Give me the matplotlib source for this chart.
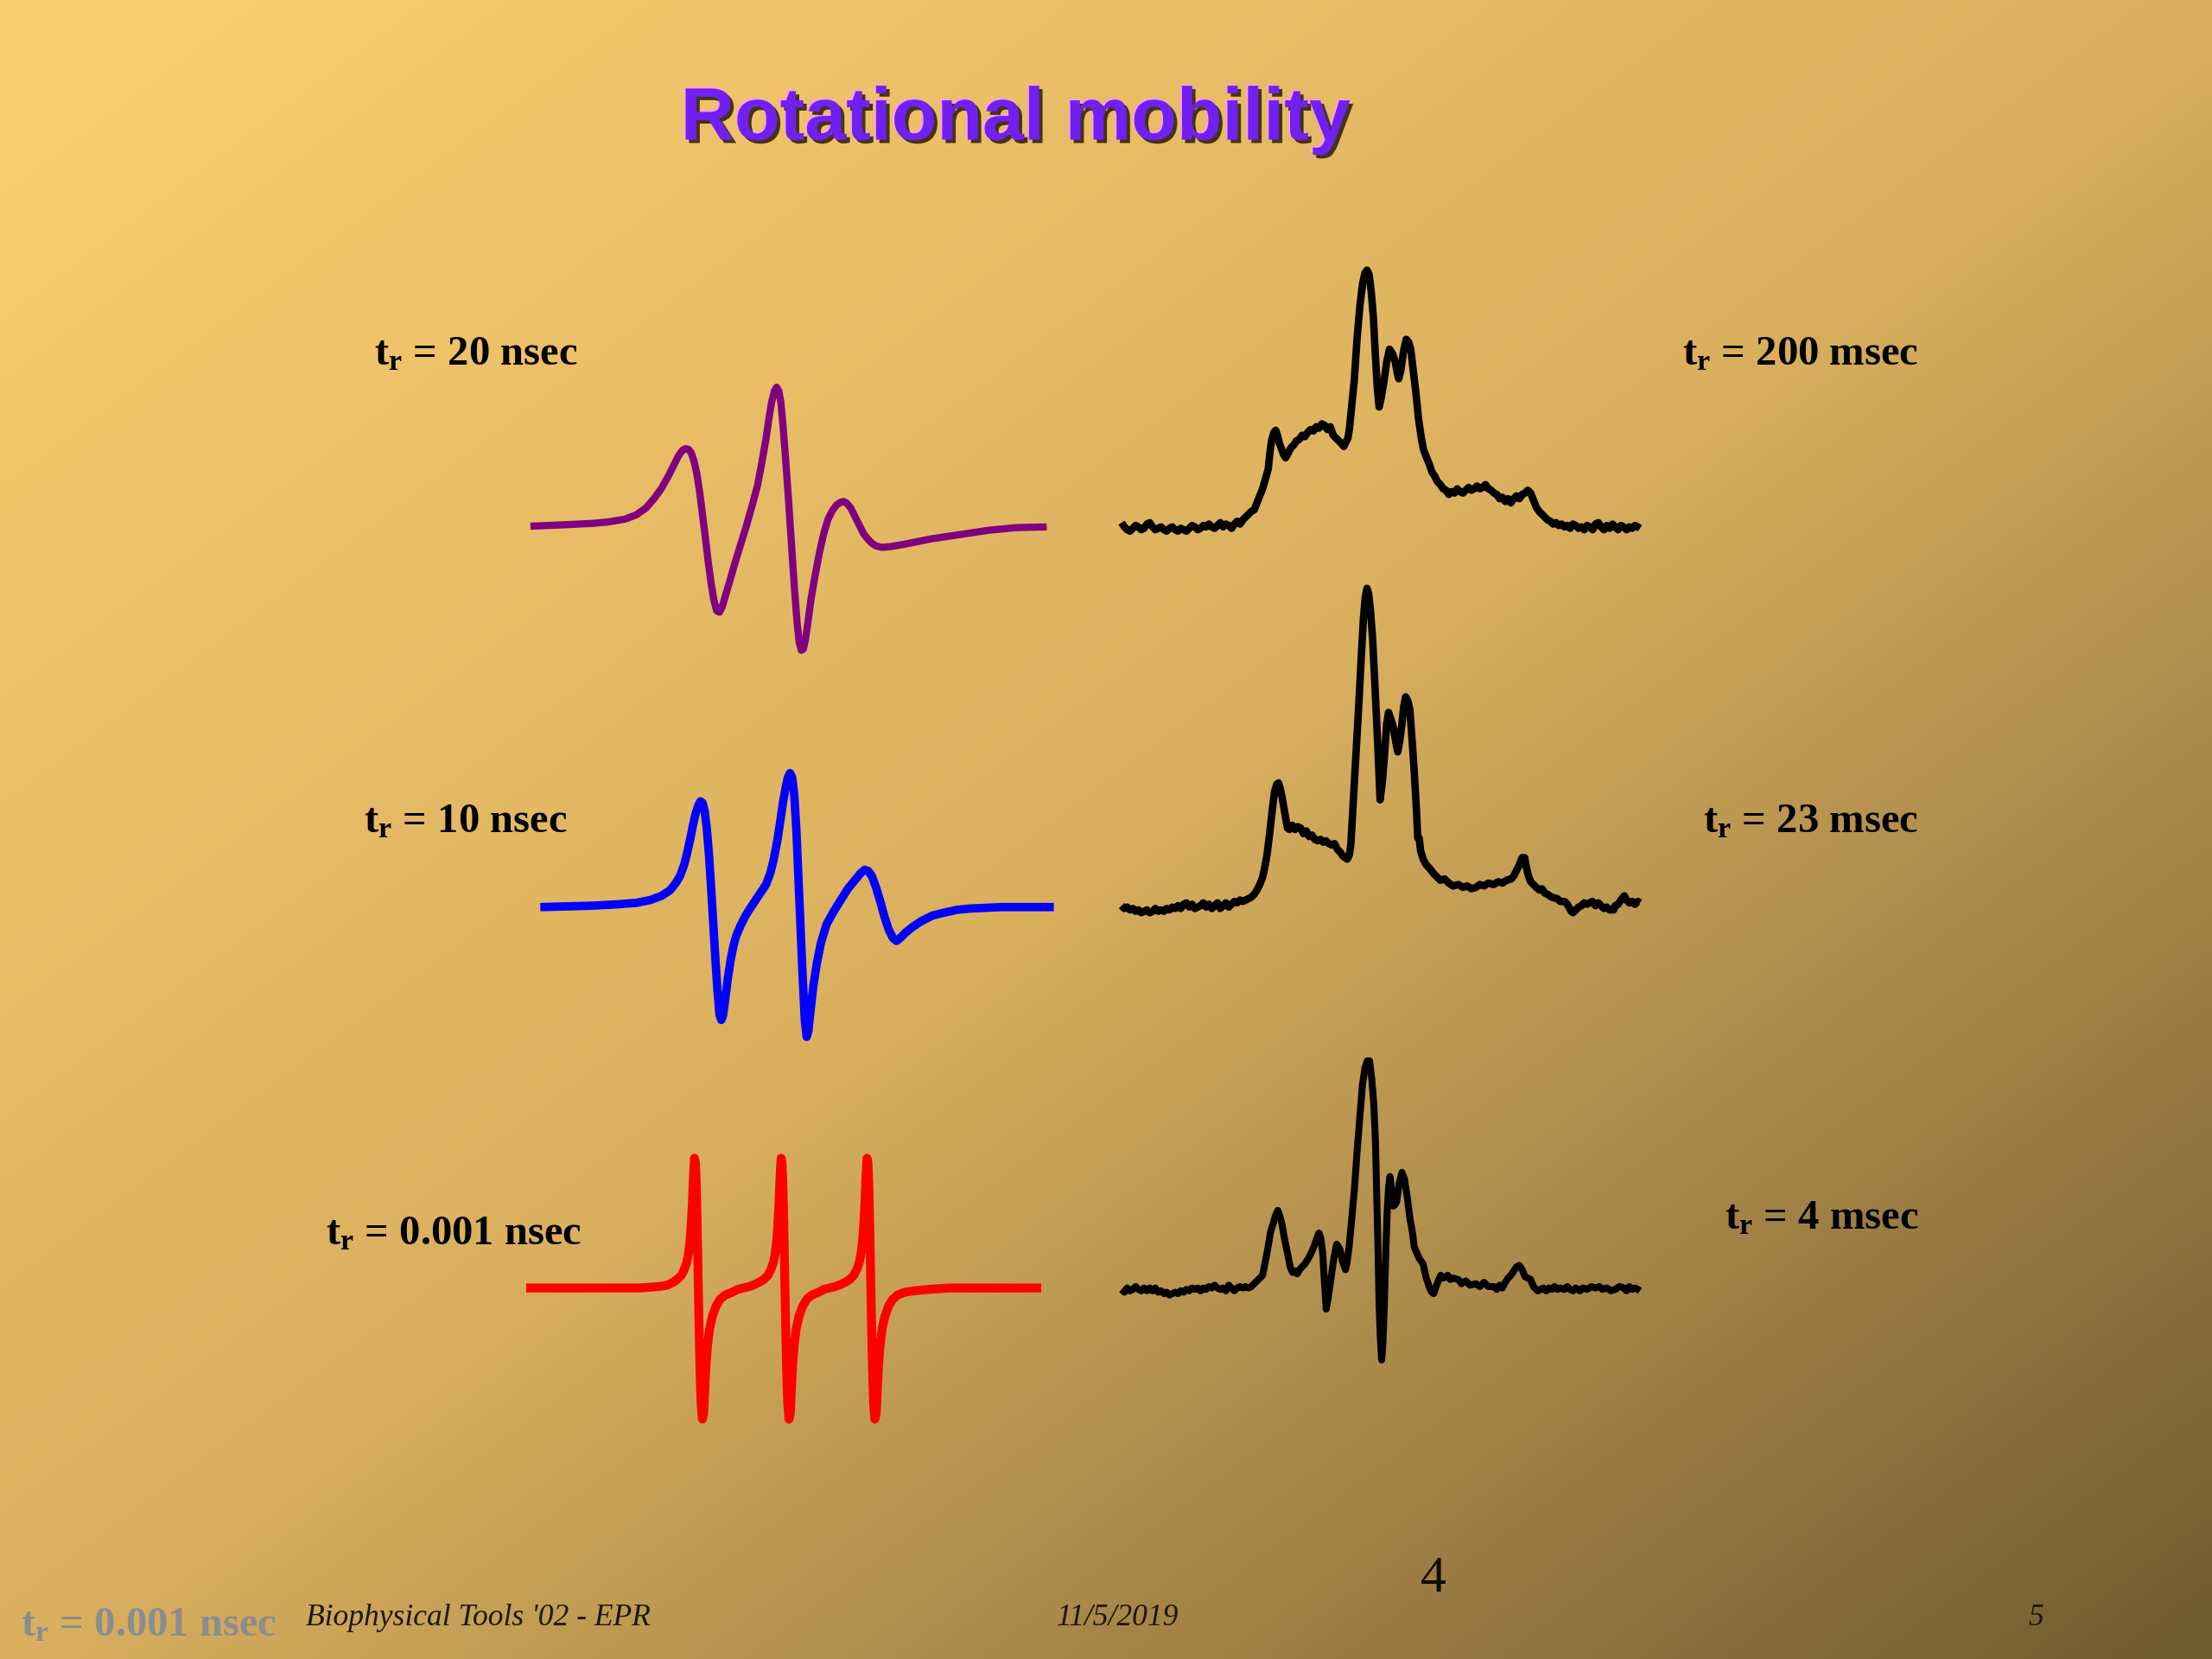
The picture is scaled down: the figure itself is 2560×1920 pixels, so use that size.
import numpy as np
import matplotlib.pyplot as plt
import matplotlib.patheffects as pe

plt.rcParams['mathtext.fontset'] = 'custom'
plt.rcParams['mathtext.rm'] = 'Liberation Serif'
plt.rcParams['mathtext.bf'] = 'Liberation Serif:bold'
plt.rcParams['mathtext.it'] = 'Liberation Serif:italic'

# slide layout grid (the slide is drawn on a 1568 x 1176 grid)
W, H = 1568, 1176

# simulated spectra, left column: (field, signal)
sim_20ns = np.array([
    (0, 0), (24, 1), (44, 2), (55, 3), (67, 5), (75, 8), (82, 13), (88, 20), (93, 27),
    (98, 36), (102, 44), (105, 50), (108, 54), (110, 55), (112, 54.5), (114, 52),
    (116, 46), (118, 37), (120, 24), (122, 8), (124, -8), (126, -25), (128, -40),
    (130, -52), (132, -60), (134, -61), (136, -57), (138, -50), (141, -40), (145, -26),
    (149, -13), (153, 0), (157, 14), (161, 29), (164, 45), (167, 62), (169, 76),
    (171, 88), (173, 96), (174.5, 98.5), (176, 96), (177.5, 88), (179, 72), (181, 46),
    (183, 18), (185, -12), (187, -42), (189, -68), (190.5, -82), (192, -88),
    (193.5, -87), (195, -80), (197, -66), (199, -51), (202, -34), (205, -18), (208, -5),
    (211, 5), (214, 11), (217, 15), (220, 17), (222, 17.5), (224, 16.5), (227, 13),
    (230, 7), (233, 1), (236, -5), (239, -9), (242, -12), (245, -14), (249, -15),
    (255, -14.5), (264, -13), (284, -9), (304, -6), (324, -3), (344, -1), (366, -0.5)])

sim_10ns = np.array([
    (0, 0), (37, 1), (55, 2), (68, 3), (78, 5), (86, 8), (92, 12), (96, 17), (99, 22),
    (102, 30), (104, 38), (106, 47), (108, 57), (110, 66), (112, 72), (113.5, 75),
    (115, 74), (116.5, 68), (118, 56), (119.5, 38), (121, 15), (122.5, -10), (124, -35),
    (125.5, -58), (127, -76), (128.3, -80), (129.5, -77), (131, -66), (133, -50),
    (135, -37), (137, -27), (139, -20), (142, -13), (145, -7), (148, -2), (152, 4),
    (156, 10), (160, 16), (163, 24), (165.5, 34), (168, 47), (170, 60), (172, 74),
    (174, 85), (175.5, 92), (177, 95), (178.5, 92), (180, 80), (181.5, 55), (183, 20),
    (184.5, -15), (186, -50), (187.5, -80), (188.8, -92), (190, -88), (191.5, -74),
    (193.5, -56), (196, -40), (199, -25), (203, -12), (208, -3), (213, 5), (218, 13),
    (223, 19), (227, 24), (230, 26.5), (232.5, 25.5), (235, 22), (238, 14), (241, 4),
    (244, -7), (247, -16), (250, -22), (252.5, -24), (255, -22), (259, -18), (264, -14),
    (270, -10), (278, -6), (286, -4), (295, -2), (305, -1), (327, 0), (364, 0)])

sim_0001ns = np.array([
    (0, 0), (47, 0), (80, 0), (94, 1), (100, 2), (104, 4), (107, 6), (110, 9), (112, 13),
    (113.8, 18), (115, 24), (116.1, 33), (117, 45), (117.8, 60), (118.5, 78), (119.3, 92),
    (120, 88), (120.6, 72), (121.2, 45), (121.8, 12), (122.5, -25), (123.2, -58),
    (124, -82), (124.9, -93), (125.8, -89), (126.6, -72), (127.5, -54), (128.6, -40),
    (130, -29), (132, -20), (134.5, -13), (137.5, -8), (141, -5), (146, -3), (150, -1),
    (154, 0), (158, 1), (162, 2.5), (165, 4), (168.4, 6), (171.4, 9), (173.4, 13),
    (175.2, 18), (176.4, 24), (177.5, 33), (178.4, 45), (179.2, 60), (179.9, 78),
    (180.7, 92), (181.4, 88), (182, 72), (182.6, 45), (183.2, 12), (183.9, -25),
    (184.6, -58), (185.4, -82), (186.3, -93), (187.2, -89), (188, -72), (188.9, -54),
    (190, -40), (191.4, -29), (193.4, -20), (195.9, -13), (198.9, -8), (202.4, -5),
    (207.4, -3), (211, -1), (215, 0), (219, 1), (223, 2.5), (226, 4), (229.3, 6),
    (232.3, 9), (234.3, 13), (236.1, 18), (237.3, 24), (238.4, 33), (239.3, 45),
    (240.1, 60), (240.8, 78), (241.6, 92), (242.3, 88), (242.9, 72), (243.5, 45),
    (244.1, 12), (244.8, -25), (245.5, -58), (246.3, -82), (247.2, -93), (248.1, -89),
    (248.9, -72), (249.8, -54), (250.9, -40), (252.3, -29), (254.3, -20), (256.8, -13),
    (259.8, -8), (263.3, -5), (268.3, -3), (275, -2), (285, -1), (300, 0), (330, 0),
    (365, 0)])

# measured spectra, right column
exp_200ms = np.array([
    (0, 4), (2, 1), (4, -1), (6, -2), (8, 0), (10, 2), (12, 1), (14, -1), (16, 0), (18, 3),
    (20, 4), (22, 1), (24, -1), (26, 0), (28, 1), (30, -1), (32, -2), (34, 0), (36, 1),
    (38, -1), (40, -2), (42, 0), (44, -1), (46, -2), (48, 0), (50, 2), (52, 1), (54, -1),
    (56, 0), (58, 2), (60, 1), (62, 3), (64, 1), (66, 0), (68, 2), (70, 4), (72, 1),
    (74, 3), (76, 2), (78, 0), (80, 3), (82, 5), (84, 3), (86, 6), (88, 8), (90, 10),
    (92, 12), (94, 13), (96, 18), (98, 23), (100, 28), (102, 35), (104, 42), (105, 52),
    (106.3, 62), (108, 68), (109.3, 69.5), (110.5, 66), (112, 60), (113.5, 56), (115, 52),
    (116.3, 50), (118, 53), (120, 57), (122, 59), (124, 62), (126, 63), (128, 66),
    (130, 65), (132, 68), (134, 70), (136, 69), (138, 72), (140, 71), (142, 74), (144, 73),
    (146, 70), (148, 72), (150, 66), (152, 64), (154, 62), (156, 60), (157.6, 58),
    (159, 61), (160.5, 64), (161.5, 70), (163, 85), (165, 105), (167, 135), (169, 158),
    (171, 174), (172.6, 181), (174, 183), (175.5, 180), (177, 168), (178.5, 150),
    (180, 122), (181.3, 100), (182.6, 86), (184, 92), (186, 104), (188, 118),
    (190, 127), (192, 124), (193.8, 119), (195.5, 110), (196.5, 106), (198, 112),
    (200, 126), (201.8, 134), (203.5, 132), (205, 127), (207, 110), (208.8, 95),
    (210.5, 78), (212.5, 64), (214, 56), (216.3, 50), (218, 46), (220, 40), (222, 37),
    (224, 33), (226, 31), (228, 28), (230, 27), (232, 24), (234, 26), (236, 25), (238, 28),
    (240, 26), (242, 25), (244, 27), (246, 29), (248, 27), (250, 28), (252, 30), (254, 28),
    (256, 29), (258, 31), (260, 28), (262, 27), (264, 25), (266, 24), (268, 21), (270, 22),
    (272, 19), (274, 21), (276, 18), (278, 21), (280, 23), (282, 21), (284, 24), (286, 25),
    (288, 27), (290, 25), (292, 20), (294, 15), (296, 12), (298, 10), (300, 8), (302, 6),
    (304, 5), (306, 3), (308, 4), (310, 2), (312, 3), (314, 1), (316, 2), (318, 0),
    (320, 3), (322, 2), (324, 0), (326, 1), (328, -1), (330, 2), (332, 1), (334, -1),
    (336, 3), (338, 4), (340, 1), (342, -1), (344, 2), (346, 0), (348, 3), (350, 1),
    (352, -1), (354, 2), (356, 1), (358, -1), (360, 1), (362, 0), (364, 2), (366, 1),
    (367.5, 0)])

exp_23ms = np.array([
    (0, 1), (2, -1), (4, 0), (6, -2), (8, -1), (10, -3), (12, -2), (14, -4), (16, -3),
    (18, -2), (20, -4), (22, -3), (24, -1), (26, -3), (28, -2), (30, -3), (32, -1),
    (34, -2), (36, 0), (38, -1), (40, 1), (42, -1), (44, 2), (46, 3), (48, 0), (50, 2),
    (52, -1), (54, 0), (56, 1), (58, 3), (60, 0), (62, 2), (64, -1), (66, 1), (68, 3),
    (70, -1), (72, 1), (74, 3), (76, 0), (78, 2), (80, 4), (82, 3), (84, 5), (86, 4),
    (88, 5), (90, 6), (92, 7), (94, 9), (96, 12), (98, 16), (100, 21), (101.5, 28),
    (103, 36), (105, 52), (107, 70), (108.5, 82), (110, 87), (111.3, 88), (112.5, 84),
    (113.8, 78), (115.5, 68), (117.6, 56), (119, 55), (121, 58), (123, 55), (125, 57),
    (127, 56), (129, 52), (131, 54), (133, 50), (135, 51), (137, 48), (139, 47), (141, 48),
    (143, 46), (145, 47), (147, 45), (149, 44), (151, 45), (153, 41), (155, 39), (157, 36),
    (158.5, 35), (160, 34), (161.5, 37), (162.6, 45), (164, 70), (166, 105), (168, 140),
    (170, 178), (171.5, 205), (172.8, 220), (174, 226), (175.2, 222), (176.5, 210),
    (178, 190), (179.5, 160), (181.5, 118), (183.3, 76), (184.8, 88), (186.3, 106),
    (188, 130), (189.3, 138), (191, 133), (192.6, 128), (194.2, 118), (195.8, 110),
    (197.3, 118), (198.8, 130), (200, 142), (201.4, 149), (203, 146), (204.4, 140),
    (206, 118), (207.5, 96), (209, 70), (210, 49), (211, 49), (212, 40), (213.8, 34),
    (216, 30), (218.8, 27), (221, 24), (223, 22), (226, 19), (229, 20), (232, 17),
    (235, 15), (238.8, 16), (242, 14), (245, 15), (248, 13), (251.3, 14), (254, 16),
    (257, 15), (260, 17), (263.8, 16), (267, 18), (270, 17), (273, 19), (276.3, 20),
    (278, 22), (280, 26), (282, 30), (284, 35), (285.8, 35), (287, 28), (288.5, 22),
    (290, 18), (292, 16), (294, 14), (296.3, 12), (298, 13), (300, 10), (302, 9), (305, 7),
    (308.8, 6), (311, 4), (314, 4), (316, 2), (318.8, -3), (320, -4), (322, -2), (324, 0),
    (326, 1), (328, 3), (330, 2), (333.8, 4), (336, 1), (338, 3), (340, 1), (342, -1),
    (344, 0), (346, -2), (348.8, -2), (350, 1), (352, 2), (354, 5), (356.4, 8), (358, 5),
    (360, 3), (362, 4), (364, 2), (366, 4), (367.5, 3)])

exp_4ms = np.array([
    (0, 0), (2, -2), (4, 1), (6, -1), (8, 0), (10, 2), (12, 0), (14, -1), (16, 1), (18, -1),
    (20, 1), (22, -1), (24, 1), (26, -2), (28, -1), (30, -3), (32, -2), (34, -4), (36, -3),
    (38, -2), (40, -3), (42, -1), (44, -2), (46, 0), (48, -1), (50, 1), (52, 0), (54, 1),
    (56, -1), (58, 1), (60, 0), (62, 2), (64, 1), (66, 3), (68, 1), (70, 0), (72, 1),
    (74, -1), (76, 3), (78, 1), (80, -1), (82, 1), (84, 2), (86, 1), (88, 2), (90, 1),
    (92, 2), (94, 4), (96, 6), (98, 8), (100, 10), (102, 20), (103.9, 30), (105.5, 40),
    (107.6, 47), (109, 52), (110.8, 56), (112.2, 52), (113.8, 46), (115.5, 36),
    (117.6, 26), (119.5, 16), (121.3, 12), (123, 13), (124.5, 11), (126.3, 14), (128, 16),
    (130, 18), (132.5, 22), (134.5, 26), (136.3, 30), (138, 35), (140, 40), (141.3, 36),
    (142.6, 26), (143.8, 6), (145.1, -14), (146.5, -6), (148.8, 10), (150.5, 22),
    (152.5, 32), (154, 30), (155, 28), (156.5, 20), (158.8, 14), (160, 20), (161.3, 30),
    (163, 48), (165.1, 71), (167, 98), (168.9, 122), (170.8, 145), (172.6, 157),
    (174.2, 162), (175.8, 162), (177.3, 150), (178.8, 132), (180, 105), (180.8, 71),
    (181.8, 30), (182.6, -11), (183.5, -35), (184.4, -50), (185.3, -38), (186.3, -11),
    (187.3, 25), (188.3, 55), (189.3, 72), (190.3, 80), (191.5, 70), (192.6, 59),
    (193.8, 60), (195, 62), (196.8, 75), (198.8, 83), (200.6, 78), (202.6, 65),
    (204.5, 50), (206.3, 40), (207.5, 30), (208.8, 27), (211, 22), (213.8, 18), (216, 8),
    (218.8, 0), (220, -2), (221.3, -3), (223, 2), (224.5, 6), (226.3, 10), (228, 8),
    (231.3, 10), (233, 7), (235, 8), (238.8, 7), (241, 4), (244, 6), (247, 3), (251.3, 4),
    (254, 2), (257, 5), (260, 2), (263.8, 2), (266, 0), (268, 3), (270, 1), (272, 5),
    (274, 8), (276, 10), (278, 13), (280, 16), (282, 17), (284, 14), (286, 9), (288, 8),
    (290, 7), (292, 2), (294, 0), (295, -1), (297, 0), (299, 1), (301, -1), (303, 1),
    (305, 0), (307, 2), (309, 0), (311, 1), (313.8, 0), (316, 2), (318, 0), (320, -1),
    (322, 1), (325, -1), (327, 1), (330, 0), (333, 2), (336, 1), (338.8, 2), (341, 0),
    (344, 1), (347, -1), (350, 0), (353, 2), (356, 1), (358, -1), (360, 2), (362, 0),
    (364, 1), (366, 0), (367.5, -1)])

left_labels = ['20 nsec', '10 nsec', '0.001 nsec']
right_labels = ['200 msec', '23 msec', '4 msec']

fig = plt.figure(figsize=(12.8, 9.6), dpi=200)

# background gradient, light orange top-left to brown bottom-right
bg = fig.add_axes([0, 0, 1, 1])
gx, gy = np.meshgrid(np.linspace(0, 1, 400), np.linspace(0, 1, 300))
t = (gx + gy) / 2
stops = [0, 0.5, 1]
img = np.dstack([np.interp(t, stops, [252, 218, 112]),
                 np.interp(t, stops, [207, 176, 90]),
                 np.interp(t, stops, [112, 95, 48])]) / 255
bg.imshow(img, extent=[0, 1, 0, 1], aspect='auto', interpolation='bilinear')
bg.set_xlim(0, 1)
bg.set_ylim(0, 1)
bg.axis('off')


def panel(x0, yb, curve, color, lw):
    # one axes per spectrum, 1 data unit = 1 grid pixel
    ax = fig.add_axes([(x0 - 20) / W, 1 - (yb + 120) / H, 410 / W, 380 / H])
    ax.set_xlim(-20, 390)
    ax.set_ylim(-120, 260)
    ax.plot(curve[:, 0], curve[:, 1], color=color, lw=lw,
            solid_joinstyle='round', solid_capstyle='butt')
    ax.axis('off')


panel(376, 373, sim_20ns, '#800080', 3.0)
panel(383, 643, sim_10ns, '#0000ff', 3.5)
panel(373, 913, sim_0001ns, '#ff0000', 3.7)
panel(795, 374.5, exp_200ms, 'black', 3.1)
panel(795, 643, exp_23ms, 'black', 3.1)
panel(795, 914, exp_4ms, 'black', 2.9)


def label(x, y, txt, ha='left', color='black'):
    fig.text(x / W, 1 - y / H, r'$\mathbf{t_r}$ = ' + txt, ha=ha, va='baseline',
             fontsize=17.5, fontweight='bold', family='Liberation Serif', color=color)


for (x, y), s in zip([(265, 259), (258, 590), (231, 882)], left_labels):
    label(x, y, s)
for y, s in zip([259, 590, 871], right_labels):
    label(1360, y, s, ha='right')

fig.text(720 / W, 1 - 99 / H, 'Rotational mobility', ha='center', va='baseline',
         fontsize=31, fontweight='bold', family='Liberation Sans', color='#7020f0',
         path_effects=[pe.SimplePatchShadow(offset=(-0.6, 0.6), shadow_rgbFace='#ff9ee8', alpha=1),
                       pe.SimplePatchShadow(offset=(1.4, -1.4), shadow_rgbFace='#2a1a06', alpha=0.85),
                       pe.Normal()])

# footer
label(15, 1160, '0.001 nsec', color='#8a8c90')
fig.text(217 / W, 1 - 1152 / H, "Biophysical Tools '02 - EPR", ha='left', va='baseline',
         fontsize=12.8, style='italic', family='Liberation Serif', color='#1e1608')
fig.text(792 / W, 1 - 1152 / H, '11/5/2019', ha='center', va='baseline',
         fontsize=12.8, style='italic', family='Liberation Serif', color='#1e1608')
fig.text(1443 / W, 1 - 1152 / H, '5', ha='center', va='baseline',
         fontsize=12.8, style='italic', family='Liberation Serif', color='#1e1608')
fig.text(1016 / W, 1 - 1128 / H, '4', ha='center', va='baseline',
         fontsize=21.5, family='Liberation Serif', color='#100c04')

fig.savefig('out.png', dpi=200)
